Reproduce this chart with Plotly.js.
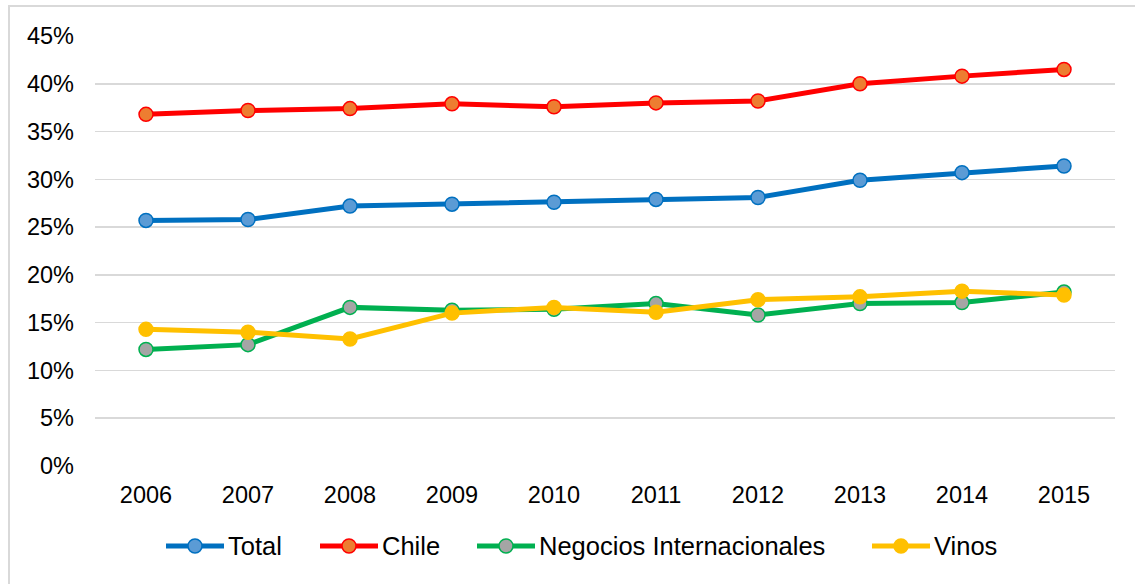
<!DOCTYPE html>
<html>
<head>
<meta charset="utf-8">
<script src="https://cdn.plot.ly/plotly-3.0.1.min.js"></script>
<style>
  html, body { margin: 0; padding: 0; background: #ffffff; overflow: hidden; }
  #chart { position: absolute; left: 0; top: 0; width: 1135px; height: 584px; }
  #frame { position: absolute; left: 8px; top: 5px; width: 1140px; height: 600px;
           border: 2px solid #d9d9d9; pointer-events: none; }
</style>
</head>
<body>
<div id="chart"></div>
<div id="frame"></div>
<script>
// Años del periodo
const years = ['2006', '2007', '2008', '2009', '2010', '2011', '2012', '2013', '2014', '2015'];

// Nombres de las series
const names = ['Total', 'Chile', 'Negocios Internacionales', 'Vinos'];

// Porcentajes por serie
const total    = [25.7, 25.8, 27.2, 27.4, 27.6, 27.9, 28.1, 29.9, 30.7, 31.4];
const chile    = [36.8, 37.2, 37.4, 37.9, 37.6, 38.0, 38.2, 40.0, 40.8, 41.5];
const negocios = [12.2, 12.7, 16.6, 16.3, 16.4, 17.0, 15.8, 17.0, 17.1, 18.2];
const vinos    = [14.3, 14.0, 13.3, 16.0, 16.6, 16.1, 17.4, 17.7, 18.3, 17.9];

// Marcas del eje Y
const yTicks = [0, 5, 10, 15, 20, 25, 30, 35, 40, 45];
const yTickText = yTicks.map(v => v + '%');

// Estilo de cada serie: color de línea y relleno del marcador
const lineColors = ['#0070C0', '#FF0000', '#00B050', '#FFC000'];
const fillColors = ['#5B9BD5', '#ED7D31', '#A5A5A5', '#FFC000'];
const values = [total, chile, negocios, vinos];

// Geometría del área de trazado (px)
const W = 1135, H = 584;
const M = { l: 95, r: 20, t: 36, b: 118 };
const plotW = W - M.l - M.r, plotH = H - M.t - M.b;
const px2x = p => (p - M.l) / plotW;
const px2y = p => (H - M.b - p) / plotH;

const data = names.map((name, i) => ({
  type: 'scatter',
  mode: 'lines+markers',
  name: name,
  x: years,
  y: values[i],
  showlegend: false,
  line: { color: lineColors[i], width: 5 },
  marker: { size: 14, color: fillColors[i], line: { color: lineColors[i], width: 1.5 } }
}));

// Leyenda inferior: segmento de línea con marcador y nombre a la derecha
const legendStart = [166, 320, 477, 872];
const legendY = 546;
const symbolLen = 58;
const shapes = [];
const annotations = [];
names.forEach((name, i) => {
  const x0 = legendStart[i], x1 = x0 + symbolLen;
  shapes.push({
    type: 'line', xref: 'paper', yref: 'paper',
    x0: px2x(x0), x1: px2x(x1), y0: px2y(legendY), y1: px2y(legendY),
    line: { color: lineColors[i], width: 5 }
  });
  shapes.push({
    type: 'circle', xref: 'paper', yref: 'paper',
    xsizemode: 'pixel', ysizemode: 'pixel',
    xanchor: px2x((x0 + x1) / 2), yanchor: px2y(legendY),
    x0: -7, x1: 7, y0: -7, y1: 7,
    fillcolor: fillColors[i],
    line: { color: lineColors[i], width: 1.5 }
  });
  annotations.push({
    xref: 'paper', yref: 'paper',
    x: px2x(x1 + 2), y: px2y(legendY),
    xanchor: 'left', yanchor: 'middle',
    text: name, showarrow: false,
    font: { size: 25.5, color: '#000000' }
  });
});

const layout = {
  width: W,
  height: H,
  margin: M,
  paper_bgcolor: '#ffffff',
  plot_bgcolor: '#ffffff',
  font: { family: '"Liberation Sans", Arial, sans-serif', size: 23.5, color: '#000000' },
  showlegend: false,
  shapes: shapes,
  annotations: annotations,
  xaxis: {
    type: 'category',
    range: [-0.5, 9.5],
    showgrid: false,
    showline: false,
    zeroline: false,
    ticks: '',
    ticklabelstandoff: 12,
    tickfont: { size: 23.5 }
  },
  yaxis: {
    range: [0, 45],
    tickvals: yTicks,
    ticktext: yTickText,
    showgrid: true,
    gridcolor: '#d9d9d9',
    gridwidth: 1.5,
    zeroline: false,
    showline: false,
    ticks: '',
    ticklabelstandoff: 20,
    tickfont: { size: 23.5 }
  }
};

Plotly.newPlot('chart', data, layout, { staticPlot: true, displayModeBar: false });
</script>
</body>
</html>
